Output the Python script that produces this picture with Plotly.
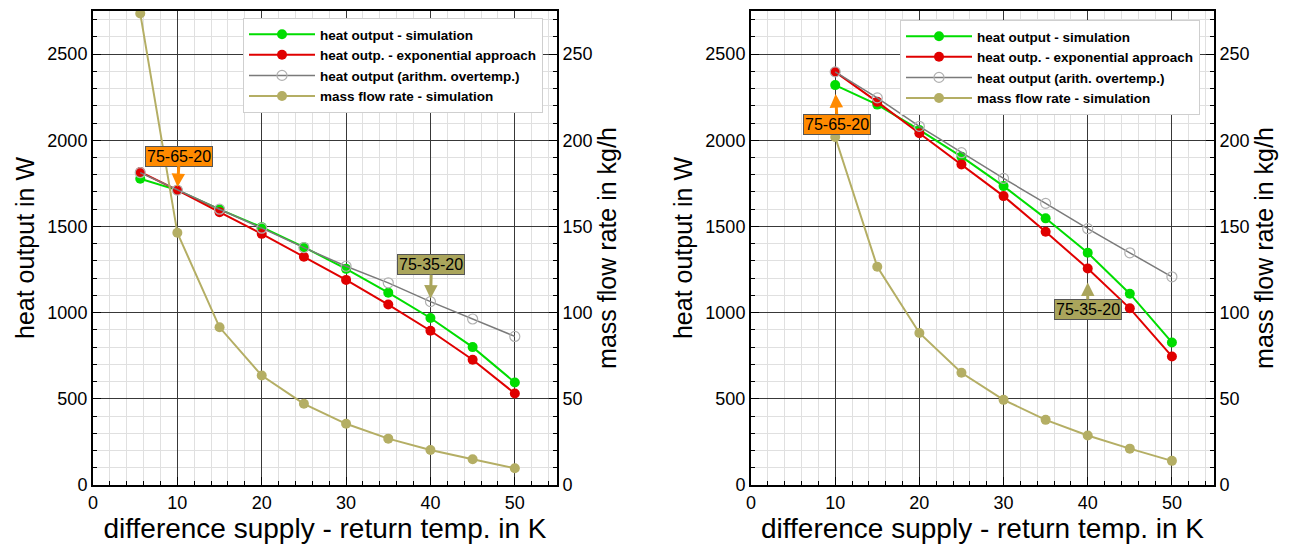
import plotly.graph_objects as go

# ---------------- data ----------------
dT_left = [5.6, 10, 15, 20, 25, 30, 35, 40, 45, 50]
sim_left = [1777, 1711, 1599, 1496, 1380, 1254, 1116, 969, 800, 595]
exp_left = [1816, 1711, 1583, 1457, 1324, 1190, 1047, 895, 727, 531]
arith_left = [1812, 1711, 1600, 1490, 1377, 1269, 1173, 1064, 963, 862]
mflow_left = [273.6, 146.3, 91.5, 63.5, 47.1, 35.5, 26.9, 20.3, 14.9, 9.7]

dT_right = [10, 15, 20, 25, 30, 35, 40, 45, 50]
sim_right = [2320, 2207, 2060, 1905, 1734, 1547, 1347, 1110, 827]
exp_right = [2397, 2223, 2041, 1860, 1676, 1469, 1256, 1025, 746]
arith_right = [2397, 2246, 2081, 1928, 1779, 1634, 1487, 1347, 1208]
mflow_right = [201.9, 126.6, 88.2, 65.1, 49.4, 37.8, 28.7, 21.1, 14.0]

names = ["heat output - simulation",
         "heat outp. - exponential approach",
         "heat output (arithm. overtemp.)",
         "mass flow rate - simulation"]
names_right = ["heat output - simulation",
               "heat outp. - exponential approach",
               "heat output (arith. overtemp.)",
               "mass flow rate - simulation"]

x_title = "difference supply - return temp. in K"
y_title = "heat output in W"
y2_title = "mass flow rate in kg/h"

# ---------------- styles ----------------
GREEN = "#00dd00"
RED = "#e00000"
GRAYL = "#7a7a7a"
GRAYM = "#b0b0b0"
OLIVE = "#b4ae64"
ORANGE = "#ff8a00"
OLIVEBOX = "#aaa55c"
FONT = "Liberation Sans, Arial, sans-serif"

fig = go.Figure()


def add_set(x, sim, ex, ar, mf, xa, ya, ya2, legend, nm):
    fig.add_trace(go.Scatter(x=x, y=sim, name=nm[0], xaxis=xa, yaxis=ya, legend=legend,
                             mode="lines+markers", line=dict(color=GREEN, width=2),
                             marker=dict(color=GREEN, size=10, symbol="circle")))
    fig.add_trace(go.Scatter(x=x, y=ex, name=nm[1], xaxis=xa, yaxis=ya, legend=legend,
                             mode="lines+markers", line=dict(color=RED, width=2),
                             marker=dict(color=RED, size=10, symbol="circle")))
    fig.add_trace(go.Scatter(x=x, y=ar, name=nm[2], xaxis=xa, yaxis=ya, legend=legend,
                             mode="lines+markers", line=dict(color=GRAYL, width=1.5),
                             marker=dict(color=GRAYM, size=10, symbol="circle-open",
                                         line=dict(width=1.2, color=GRAYM))))
    fig.add_trace(go.Scatter(x=x, y=mf, name=nm[3], xaxis=xa, yaxis=ya2, legend=legend,
                             mode="lines+markers", line=dict(color=OLIVE, width=2),
                             marker=dict(color=OLIVE, size=10, symbol="circle")))


add_set(dT_left, sim_left, exp_left, arith_left, mflow_left, "x", "y", "y2", "legend", names)
add_set(dT_right, sim_right, exp_right, arith_right, mflow_right, "x2", "y3", "y4", "legend2", names_right)

# page offset of the plot div (default body margin)
OFF = 8
W, H = 1296 - OFF, 554 - OFF
L = 93 - OFF
T = 11 - OFF
R = W - (1214 - OFF)
B = H - (485 - OFF)
pw = W - L - R
ph = H - T - B
dom_left = [0, (557 - 93) / pw]
dom_right = [(751 - 93) / pw, 1]

tickfont = dict(family=FONT, size=18, color="black")
titlefont = dict(family=FONT, size=25, color="black")
MAJOR = "#383838"
MINOR = "#e0e0e0"

xcommon = dict(range=[0, 55], dtick=10, tick0=0, showgrid=True, gridcolor=MAJOR, gridwidth=1.3,
               showline=True, linecolor="black", linewidth=2, mirror=True,
               ticks="inside", ticklen=8, tickcolor="black", tickwidth=1.2,
               minor=dict(dtick=2, showgrid=True, gridcolor=MINOR, gridwidth=1,
                          ticks="inside", ticklen=4, tickcolor="black"),
               zeroline=False, tickfont=tickfont, automargin=False,
               title=dict(text=x_title, font=dict(family=FONT, size=28, color="black"), standoff=6))
ycommon = dict(range=[0, 2750], dtick=500, tick0=0, showgrid=True, gridcolor=MAJOR, gridwidth=1.3,
               showline=True, linecolor="black", linewidth=2,
               ticks="inside", ticklen=8, tickcolor="black", tickwidth=1.2,
               minor=dict(dtick=100, showgrid=True, gridcolor=MINOR, gridwidth=1,
                          ticks="inside", ticklen=4, tickcolor="black"),
               zeroline=False, tickfont=tickfont, automargin=False,
               title=dict(text=y_title, font=titlefont, standoff=6))
y2common = dict(range=[0, 275], dtick=50, tick0=0, showgrid=False, side="right",
                showline=True, linecolor="black", linewidth=2,
                ticks="inside", ticklen=8, tickcolor="black", tickwidth=1.2,
                minor=dict(dtick=10, ticks="inside", ticklen=4, tickcolor="black", showgrid=False),
                zeroline=False, tickfont=tickfont, automargin=False,
                title=dict(text=y2_title, font=titlefont, standoff=4))

legfont = dict(family=FONT, size=13.5, color="black", weight="bold")
fig.update_layout(
    width=W, height=H,
    margin=dict(l=L, r=R, t=T, b=B, autoexpand=False),
    paper_bgcolor="white", plot_bgcolor="white",
    font=dict(family=FONT, color="black"),
    xaxis=dict(domain=dom_left, anchor="y", **xcommon),
    yaxis=dict(anchor="x", **ycommon),
    yaxis2=dict(anchor="x", overlaying="y", **y2common),
    xaxis2=dict(domain=dom_right, anchor="y3", **xcommon),
    yaxis3=dict(anchor="x2", **ycommon),
    yaxis4=dict(anchor="x2", overlaying="y3", **y2common),
    legend=dict(x=(543 - 93) / pw, y=(485 - 18) / ph, xanchor="right", yanchor="top",
                bgcolor="white", bordercolor="#cfcfcf", borderwidth=1, itemwidth=66,
                font=legfont, tracegroupgap=0),
    legend2=dict(x=(1200 - 93) / pw, y=(485 - 20) / ph, xanchor="right", yanchor="top",
                 bgcolor="white", bordercolor="#cfcfcf", borderwidth=1, itemwidth=66,
                 font=legfont, tracegroupgap=0),
    showlegend=True,
)

ann_font = dict(family=FONT, size=16, color="black")
arrow = dict(showarrow=True, arrowhead=2, arrowsize=0.9, arrowwidth=3, borderpad=1,
             bordercolor="#555", borderwidth=1, font=ann_font)
fig.add_annotation(x=dT_left[1], y=sim_left[1], xref="x", yref="y", text="75-65-20",
                   ax=2, ay=-34, arrowcolor=ORANGE, bgcolor=ORANGE, standoff=3, **arrow)
fig.add_annotation(x=dT_left[7], y=arith_left[7], xref="x", yref="y", text="75-35-20",
                   ax=1, ay=-37, arrowcolor=OLIVEBOX, bgcolor=OLIVEBOX, standoff=3, **arrow)
fig.add_annotation(x=dT_right[0], y=sim_right[0], xref="x2", yref="y3", text="75-65-20",
                   ax=2, ay=39, arrowcolor=ORANGE, bgcolor=ORANGE, standoff=9, **arrow)
fig.add_annotation(x=dT_right[6], y=exp_right[6], xref="x2", yref="y3", text="75-35-20",
                   ax=0, ay=41, arrowcolor=OLIVEBOX, bgcolor=OLIVEBOX, standoff=14, **arrow)

fig.write_html("out.html")
